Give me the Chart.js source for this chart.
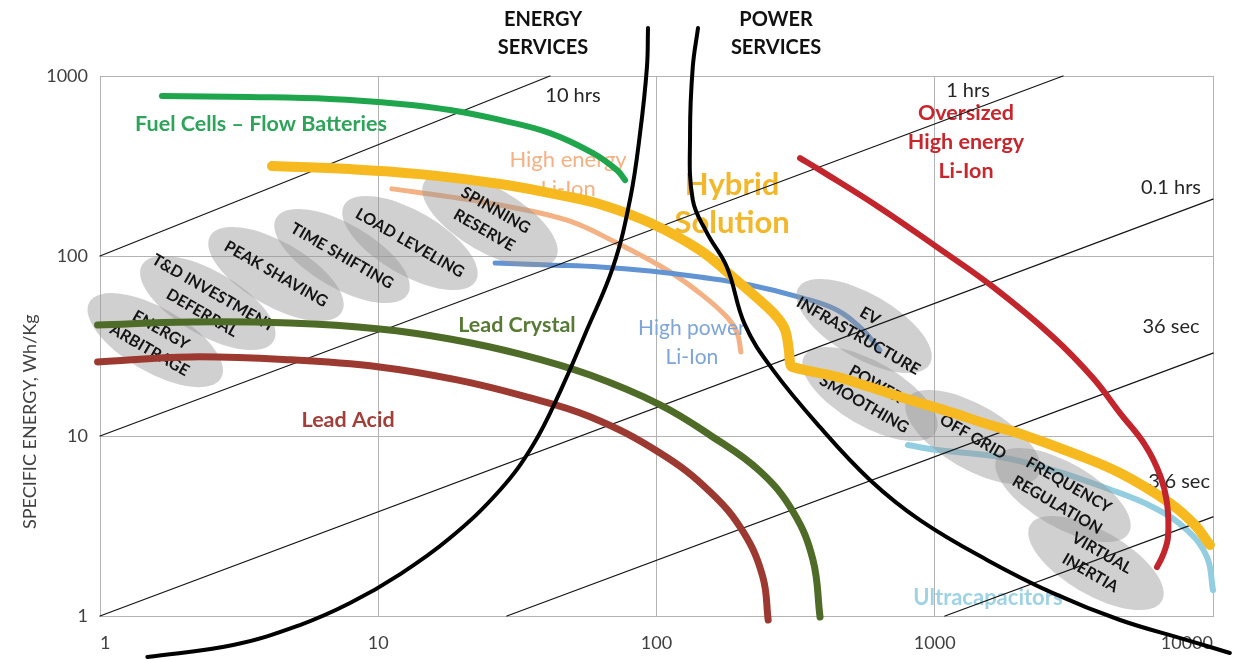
<!DOCTYPE html>
<html>
<head>
<meta charset="utf-8">
<script src="https://cdn.jsdelivr.net/npm/chart.js@4.4.1/dist/chart.umd.min.js"></script>
<style>
  html, body { margin: 0; padding: 0; background: #fff; }
  #wrap { width: 1240px; height: 659px; }
</style>
</head>
<body>
<div id="wrap"><canvas id="ragone" width="1240" height="659"></canvas></div>
<script>
// axes
const xTickValues = [1, 10, 100, 1000, 10000];
const xTickLabels = ['1', '10', '100', '1000', '10000'];
const yTickValues = [1, 10, 100, 1000];
const yTickLabels = ['1', '10', '100', '1000'];
const yTitle = 'SPECIFIC ENERGY, Wh/Kg';
const yTitleAt = 12;

// curves: specific power (x) and specific energy (y, Wh/kg)
const fuelCellP = [1.67, 3.46, 6.71, 12.0, 18.1, 27.4, 41.4, 59.1, 72.1, 77.1];
const fuelCellE = [774, 764, 745, 699, 647, 570, 482, 373, 300, 264];

const hybridP = [4.15, 7.92, 14.1, 27.4, 45.0, 62.7, 94.8, 143, 188, 250, 273, 290, 299, 302, 307, 445, 585, 769, 1135, 1580, 2025, 3063, 4634, 7000, 8610, 9750];
const hybridE = [316, 304, 285, 251, 218, 194, 153, 108, 76.4, 52.1, 45.2, 38.8, 30.0, 25.4, 24.2, 21.3, 18.7, 16.3, 13.6, 11.5, 10.3, 8.15, 6.23, 4.24, 3.20, 2.48];

const hiEnergyP = [11.2, 18.1, 27.4, 47.7, 72.1, 109, 143, 179, 195, 201];
const hiEnergyE = [236, 213, 192, 158, 118, 83.6, 62.3, 45.8, 37.3, 29.3];

const hiPowerP = [26.3, 41.4, 62.7, 94.8, 143, 217, 336, 445, 552, 636];
const hiPowerE = [91.5, 89.1, 86.9, 82.5, 76.4, 69.0, 58.4, 50.1, 38.8, 30.0];

const ultracapP = [801, 1019, 1716, 2661, 4025, 6085, 8070, 9510, 10000];
const ultracapE = [8.91, 8.36, 7.65, 6.47, 5.21, 4.03, 3.00, 2.13, 1.39];

const oversizedP = [328, 387, 636, 1019, 1620, 2661, 3705, 4634, 5700, 6450, 6835, 6890, 6610, 6290];
const oversizedE = [350, 300, 185, 112, 67.3, 35.5, 21.0, 13.4, 8.91, 6.07, 4.24, 2.75, 2.18, 1.87];

const leadCrystalP = [0.98, 2.11, 4.82, 10.1, 18.1, 32.3, 57.7, 103, 156, 235, 310, 365, 387];
const leadCrystalE = [41.4, 43.0, 42.4, 39.3, 34.6, 28.5, 21.8, 14.9, 10.1, 6.39, 3.78, 2.05, 0.987];

const leadAcidP = [0.98, 2.11, 4.82, 10.1, 19.2, 33.1, 57.7, 103, 156, 205, 241, 252];
const leadAcidE = [25.8, 27.5, 26.5, 24.2, 20.5, 16.7, 12.8, 8.05, 4.89, 2.93, 1.65, 0.95];

const energyEdgeP = [1.48, 3.01, 5.23, 7.92, 12.0, 18.1, 27.4, 36.0, 45.0, 56.2, 69.8, 80.3, 87.3, 92.4, 93.2];
const energyEdgeE = [0.592, 0.690, 0.891, 1.18, 1.71, 2.71, 5.01, 8.91, 17.6, 38.8, 86.9, 205, 482, 1122, 1848];

const powerEdgeP = [141, 135, 132, 135, 152, 179, 208, 262, 387, 585, 885, 1540, 2661, 4634, 8070, 11500];
const powerEdgeE = [1848, 1122, 482, 205, 134, 86.9, 41.4, 23.3, 11.2, 5.70, 3.41, 2.05, 1.34, 0.95, 0.735, 0.623];

// discharge-time guide lines (two end points each)
const line10hP = [1, 41.4], line10hE = [100, 1000];
const line1hP = [1, 2890], line1hE = [10, 1000];
const line01hP = [1, 10000], line01hE = [1, 207];
const line36sP = [29, 10000], line36sE = [1, 28.9];
const line3sP = [1088, 10000], line3sE = [1, 3.55];

const timeText = ['10 hrs', '1 hrs', '0.1 hrs', '36 sec', '3.6 sec'];
const timeP = [50.1, 1317, 7063, 7063, 7550];
const timeE = [774, 826, 239, 40.3, 5.55];

// application zones (ellipses)
const zoneText = [['ENERGY', 'ARBITRAGE'], ['T&D INVESTMENT', 'DEFERRAL'], ['PEAK SHAVING'], ['TIME SHIFTING'],
  ['LOAD LEVELING'], ['SPINNING', 'RESERVE'], ['EV', 'INFRASTRUCTURE'], ['POWER', 'SMOOTHING'], ['OFF GRID'],
  ['FREQUENCY', 'REGULATION'], ['VIRTUAL', 'INERTIA']];
const zoneP = [1.58, 2.44, 4.29, 7.41, 13.0, 25.2, 557, 585, 1372, 2890, 3798];
const zoneE = [34.1, 54.8, 79.4, 100, 118, 158, 40.8, 17.1, 9.87, 4.70, 1.97];

// technology labels
const tagText = ['Fuel Cells – Flow Batteries', 'High energy', 'Li-Ion', 'Hybrid', 'Solution', 'Oversized', 'High energy', 'Li-Ion',
  'Lead Crystal', 'High power', 'Li-Ion', 'Lead Acid', 'Ultracapacitors'];
const tagSeries = ['fuel', 'hiE', 'hiE', 'hybrid', 'hybrid', 'over', 'over', 'over', 'crystal', 'hiP', 'hiP', 'acid', 'ultra'];
const tagP = [3.79, 48.1, 48.1, 187, 187, 1295, 1295, 1295, 31.5, 134, 134, 7.79, 1553];
const tagE = [541, 342, 236, 248, 153, 623, 430, 297, 41.4, 39.8, 27.5, 12.3, 1.26];

const serviceText = [['ENERGY', 'SERVICES'], ['POWER', 'SERVICES']];
const serviceP = [39.1, 269];
const serviceE = [2047, 2047];

const FONT = 'Lato, "Open Sans", sans-serif';
const tagStyle = {
    fuel: { color: '#2ea35a', font: 'bold 21.5px ' + FONT },
    hiE: { color: '#f4b183', font: '22px ' + FONT },
    hybrid: { color: '#f2b72a', font: 'bold 31px ' + FONT },
    over: { color: '#c8262d', font: 'bold 21.5px ' + FONT },
    crystal: { color: '#577a35', font: 'bold 21.5px ' + FONT },
    hiP: { color: '#7ea5d8', font: '21px ' + FONT },
    acid: { color: '#a23f38', font: 'bold 21.5px ' + FONT },
    ultra: { color: '#9fd3e4', font: 'bold 22px ' + FONT }
};

function points(p, e) {
    return p.map((v, i) => ({ x: v, y: e[i] }));
}

function curve(p, e, color, width, order, extra) {
    return Object.assign({
        data: points(p, e),
        borderColor: color,
        borderWidth: width,
        order: order,
        clip: false,
        fill: false,
        pointRadius: 0
    }, extra || {});
}

function guide(p, e, order) {
    return curve(p, e, '#151515', 1.3, order, { tension: 0 });
}

function drawLines(ctx, lines, x, y, gap) {
    const top = -(lines.length - 1) * gap / 2;
    lines.forEach((t, i) => ctx.fillText(t, x, y + top + i * gap));
}

const overlay = {
    id: 'ragoneOverlay',
    afterDatasetDraw(chart, args) {
        if (!chart.data.datasets[args.index].zonesAfter) return;
        const ctx = chart.ctx;
        const xs = chart.scales.x;
        const ys = chart.scales.y;
        const angle = Math.PI / 6;
        ctx.save();

        // zones
        ctx.fillStyle = 'rgba(150, 150, 150, 0.45)';
        zoneP.forEach((p, i) => {
            ctx.beginPath();
            ctx.ellipse(xs.getPixelForValue(p), ys.getPixelForValue(zoneE[i]), 76, 32, angle, 0, Math.PI * 2);
            ctx.fill();
        });
        ctx.fillStyle = '#141414';
        ctx.font = 'bold 16px ' + FONT;
        ctx.textAlign = 'center';
        ctx.textBaseline = 'middle';
        zoneP.forEach((p, i) => {
            ctx.save();
            ctx.translate(xs.getPixelForValue(p), ys.getPixelForValue(zoneE[i]));
            ctx.rotate(angle);
            drawLines(ctx, zoneText[i], 0, 0, 23);
            ctx.restore();
        });

        // technology labels
        tagText.forEach((t, i) => {
            const s = tagStyle[tagSeries[i]];
            ctx.fillStyle = s.color;
            ctx.font = s.font;
            ctx.fillText(t, xs.getPixelForValue(tagP[i]), ys.getPixelForValue(tagE[i]));
        });

        // discharge time labels
        ctx.fillStyle = '#262626';
        ctx.font = '20px ' + FONT;
        timeText.forEach((t, i) => {
            ctx.fillText(t, xs.getPixelForValue(timeP[i]), ys.getPixelForValue(timeE[i]));
        });

        // service headings
        ctx.fillStyle = '#111';
        ctx.font = 'bold 20px ' + FONT;
        serviceText.forEach((lines, i) => {
            const x = xs.getPixelForValue(serviceP[i]);
            const y = ys.getPixelForValue(serviceE[i]);
            lines.forEach((t, k) => ctx.fillText(t, x, y + k * 28));
        });

        // y axis title
        ctx.save();
        ctx.translate(chart.chartArea.left - 70, ys.getPixelForValue(yTitleAt));
        ctx.rotate(-Math.PI / 2);
        ctx.fillStyle = '#404040';
        ctx.font = '18px ' + FONT;
        ctx.fillText(yTitle, 0, 0);
        ctx.restore();

        ctx.restore();
    }
};

const datasets = [
    curve(hiEnergyP, hiEnergyE, '#f4b183', 5, 30),
    curve(hiPowerP, hiPowerE, '#6293d2', 5, 29),
    curve(ultracapP, ultracapE, '#93cde0', 6, 28, { zonesAfter: true }),
    guide(line10hP, line10hE, 20),
    guide(line1hP, line1hE, 19),
    guide(line01hP, line01hE, 18),
    guide(line36sP, line36sE, 17),
    guide(line3sP, line3sE, 16),
    curve(leadAcidP, leadAcidE, '#9c3a31', 7, 10),
    curve(leadCrystalP, leadCrystalE, '#4f6b28', 7, 9),
    curve(fuelCellP, fuelCellE, '#1fa64d', 6, 8),
    curve(hybridP, hybridE, '#f6b91f', 10, 7),
    curve(oversizedP, oversizedE, '#c2252c', 6, 6),
    curve(energyEdgeP, energyEdgeE, '#000', 4, 2),
    curve(powerEdgeP, powerEdgeE, '#000', 4, 1)
];

Chart.defaults.font.family = FONT;

new Chart(document.getElementById('ragone'), {
    type: 'line',
    data: { datasets: datasets },
    options: {
        responsive: false,
        animation: false,
        devicePixelRatio: 1,
        layout: { padding: { top: 76, right: 27, left: 0, bottom: 0 } },
        plugins: {
            legend: { display: false },
            tooltip: { enabled: false }
        },
        elements: {
            point: { radius: 0 },
            line: { tension: 0.4, capBezierPoints: false, borderCapStyle: 'round', borderJoinStyle: 'round' }
        },
        scales: {
            x: {
                type: 'logarithmic',
                min: 1,
                max: 10000,
                afterBuildTicks: scale => { scale.ticks = xTickValues.map(v => ({ value: v })); },
                afterFit: scale => { scale.height = 43; },
                grid: { color: '#b3b3b3', drawTicks: false },
                border: { color: '#b3b3b3' },
                ticks: {
                    align: 'inner',
                    padding: 16,
                    maxRotation: 0,
                    autoSkip: false,
                    color: '#404040',
                    font: { size: 18 },
                    callback: (v, i) => xTickLabels[i]
                }
            },
            y: {
                type: 'logarithmic',
                min: 1,
                max: 1000,
                afterBuildTicks: scale => { scale.ticks = yTickValues.map(v => ({ value: v })); },
                afterFit: scale => { scale.width = 100; },
                grid: { color: '#b3b3b3', drawTicks: false },
                border: { color: '#b3b3b3' },
                ticks: {
                    padding: 12,
                    autoSkip: false,
                    color: '#404040',
                    font: { size: 18 },
                    callback: (v, i) => yTickLabels[i]
                }
            }
        }
    },
    plugins: [overlay]
});
</script>
</body>
</html>
